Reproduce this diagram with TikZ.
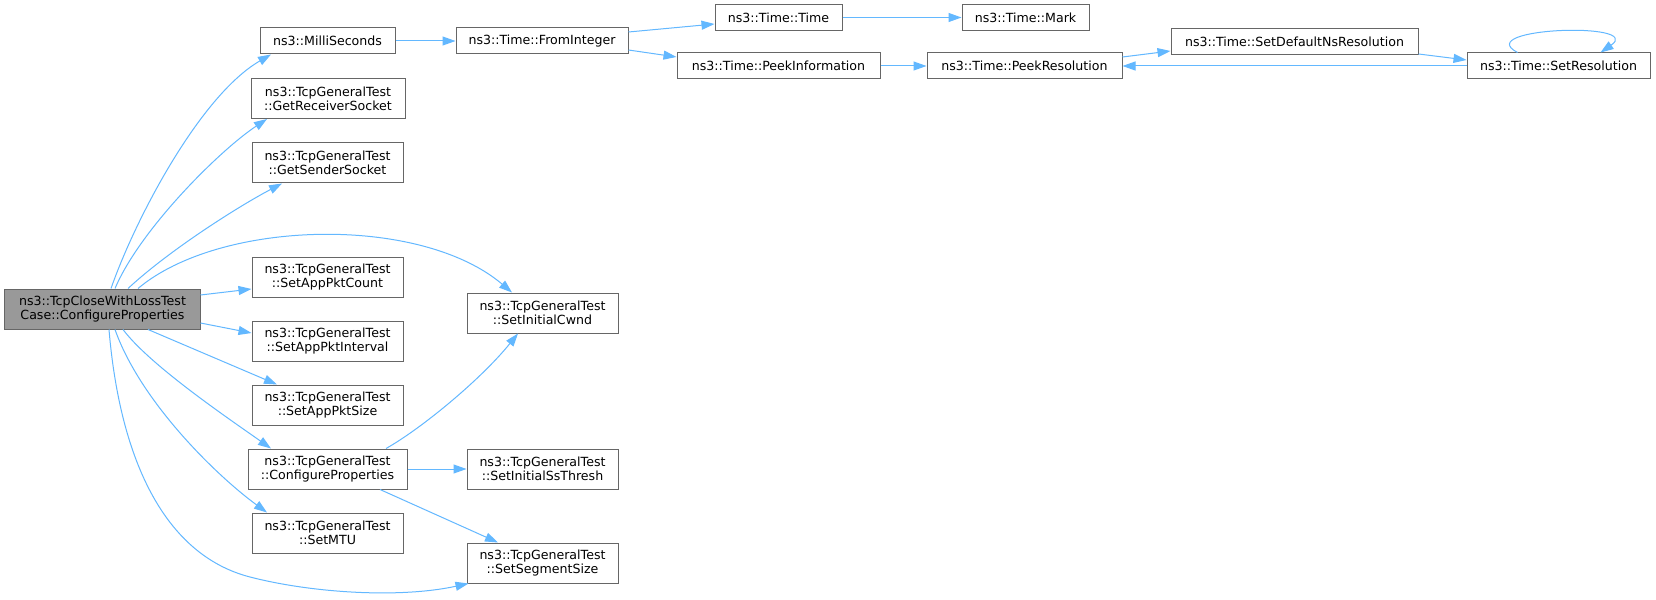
\documentclass[tikz,border=0pt]{standalone}
\usepackage{fontspec}
\setmainfont{DejaVu Sans}
\usetikzlibrary{arrows.meta}
\definecolor{edgeblue}{HTML}{63B8FF}
\definecolor{nodeborder}{HTML}{666666}
\definecolor{mainfill}{HTML}{999999}
\tikzset{
  box/.style={draw=nodeborder, line width=1bp, fill=white, inner sep=0pt, align=center,
    font=\fontsize{12.6bp}{14bp}\selectfont, text=black},
  onebox/.style={box, minimum height=26bp},
  twobox/.style={box, minimum height=40bp},
  mainbox/.style={twobox, fill=mainfill},
  link/.style={draw=edgeblue, line width=1bp, -{Triangle[length=13bp,width=9bp]}}
}
\begin{document}
\begin{tikzpicture}[x=1bp,y=-1bp]
\useasboundingbox[fill=white] (0,0) rectangle (1656,600);
% nodes
\node[mainbox, minimum width=195bp] (main) at (102.5,309) {ns3::TcpCloseWithLossTest\\Case::ConfigureProperties};
\node[onebox, minimum width=135bp] (ms) at (327.5,41) {ns3::MilliSeconds};
\node[onebox, minimum width=172bp] (fi) at (542,41) {ns3::Time::FromInteger};
\node[twobox, minimum width=154bp] (grs) at (328,98.5) {ns3::TcpGeneralTest\\::GetReceiverSocket};
\node[twobox, minimum width=151bp] (gss) at (327.5,163) {ns3::TcpGeneralTest\\::GetSenderSocket};
\node[twobox, minimum width=151bp] (sapc) at (327.5,277) {ns3::TcpGeneralTest\\::SetAppPktCount};
\node[twobox, minimum width=151bp] (sapi) at (327.5,341) {ns3::TcpGeneralTest\\::SetAppPktInterval};
\node[twobox, minimum width=151bp] (saps) at (327.5,405) {ns3::TcpGeneralTest\\::SetAppPktSize};
\node[twobox, minimum width=159bp] (tcp) at (327.5,469) {ns3::TcpGeneralTest\\::ConfigureProperties};
\node[twobox, minimum width=151bp] (mtu) at (327.5,533) {ns3::TcpGeneralTest\\::SetMTU};
\node[twobox, minimum width=151bp] (sic) at (542.5,313) {ns3::TcpGeneralTest\\::SetInitialCwnd};
\node[twobox, minimum width=151bp] (sis) at (542.5,469) {ns3::TcpGeneralTest\\::SetInitialSsThresh};
\node[twobox, minimum width=151bp] (sss) at (542.5,563) {ns3::TcpGeneralTest\\::SetSegmentSize};
\node[onebox, minimum width=127bp] (tt) at (778.5,17.5) {ns3::Time::Time};
\node[onebox, minimum width=127bp] (mark) at (1025.5,17.5) {ns3::Time::Mark};
\node[onebox, minimum width=203bp] (pi) at (778.5,66) {ns3::Time::PeekInformation};
\node[onebox, minimum width=195bp] (pr) at (1024.5,66) {ns3::Time::PeekResolution};
\node[onebox, minimum width=247bp] (sdns) at (1294.5,41.5) {ns3::Time::SetDefaultNsResolution};
\node[onebox, minimum width=183bp] (sr) at (1558.5,66) {ns3::Time::SetResolution};
% edges from main
\draw[link] ([xshift=8.5bp]main.north) .. controls +(24,-69) and +(-71,41) .. ([xshift=-56.5bp]ms.south);
\draw[link] ([xshift=12.5bp]main.north) .. controls +(25,-59) and +(-47,31) .. ([xshift=-61bp]grs.south);
\draw[link] ([xshift=25.5bp]main.north) .. controls +(42,-39) and +(-42,22) .. ([xshift=-45.5bp]gss.south);
\draw[link] ([xshift=35.5bp]main.north) .. controls +(82,-69) and +(-92,-78) .. ([xshift=-30.5bp]sic.north);
\draw[link] ([yshift=14bp]main.east) -- ([yshift=-12bp]sapc.west);
\draw[link] ([yshift=-14bp]main.east) -- ([yshift=8bp]sapi.west);
\draw[link] ([xshift=45.5bp]main.south) -- ([xshift=-50.5bp]saps.north);
\draw[link] ([xshift=20.5bp]main.south) .. controls +(27,36) and +(-41,-29) .. ([xshift=-56.5bp]tcp.north);
\draw[link] ([xshift=12.5bp]main.south) .. controls +(25,71) and +(-52,-38) .. ([xshift=-60.5bp]mtu.north);
\draw[link] ([xshift=6.5bp]main.south) .. controls +(11,131) and +(-85,-22) .. (250,577)
  .. controls +(62,16) and +(-69,15) .. ([xshift=2bp]sss.south west);
% edges from TcpGeneralTest::ConfigureProperties
\draw[link] ([xshift=58.5bp]tcp.north) .. controls +(34,-19) and +(-38,47) .. ([xshift=-24.5bp]sic.south);
\draw[link] (tcp.east) -- (sis.west);
\draw[link] ([xshift=52.5bp]tcp.south) -- ([xshift=-44.5bp]sss.north);
% time chain
\draw[link] (ms.east) -- (fi.west);
\draw[link] ([yshift=9bp]fi.east) -- ([yshift=-6.5bp]tt.west);
\draw[link] ([yshift=-9bp]fi.east) -- ([yshift=9bp]pi.west);
\draw[link] (tt.east) -- (mark.west);
\draw[link] (pi.east) -- (pr.west);
\draw[link] ([yshift=9bp]pr.east) -- ([yshift=-9.5bp]sdns.west);
\draw[link] ([yshift=1bp]sdns.south east) -- ([yshift=6bp]sr.west);
\draw[link] (sr.west) -- (pr.east);
\draw[link] ([xshift=-41bp]sr.north) .. controls +(-47,-25) and +(45,-31) .. ([xshift=42bp]sr.north);
\end{tikzpicture}
\end{document}
